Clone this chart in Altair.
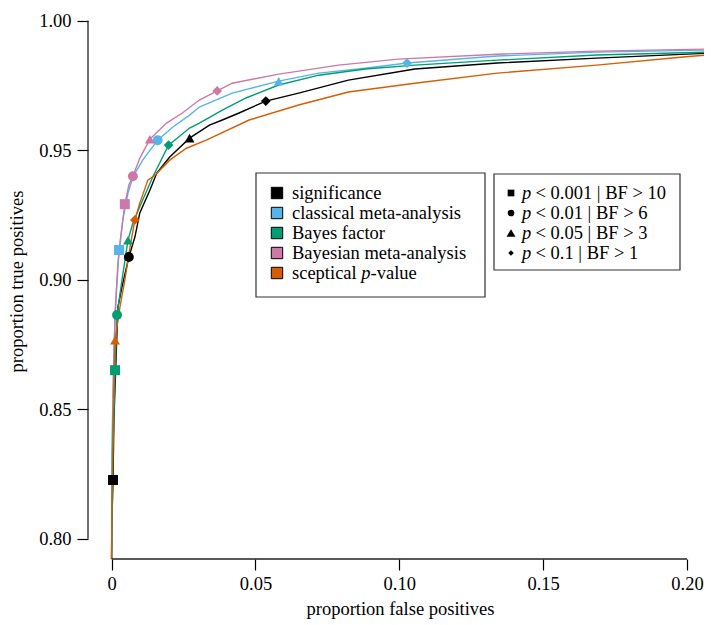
import altair as alt
import pandas as pd

FONT = "Liberation Serif"
FS = 18.5

series = ["significance", "classical meta-analysis", "Bayes factor",
          "Bayesian meta-analysis", "sceptical p-value"]
colors = ["#000000", "#56B4E9", "#009E73", "#CC79A7", "#D55E00"]

sig_fpr = [0, 0.0001, 0.0005, 0.0008, 0.0019, 0.0022, 0.0036, 0.0060, 0.0081, 0.0098,
           0.0133, 0.0157, 0.0202, 0.0271, 0.0340, 0.0385, 0.0443, 0.0536, 0.0650,
           0.0823, 0.1054, 0.1341, 0.1686, 0.2073, 0.2150]
sig_tpr = [0.7922, 0.8072, 0.8227, 0.8458, 0.8805, 0.8895, 0.8972, 0.9088, 0.9165, 0.9258,
           0.9346, 0.9412, 0.9474, 0.9547, 0.9597, 0.9617, 0.9644, 0.9690, 0.9721,
           0.9771, 0.9814, 0.9837, 0.9856, 0.9875, 0.9878]

cma_fpr = [0, 0.0001, 0.0008, 0.0015, 0.0026, 0.0039, 0.0057, 0.0074, 0.0108, 0.0160,
           0.0212, 0.0271, 0.0305, 0.0419, 0.0581, 0.0720, 0.0882, 0.1027, 0.1341,
           0.1686, 0.2073, 0.2150]
cma_tpr = [0.7922, 0.8342, 0.8728, 0.8921, 0.9115, 0.9231, 0.9335, 0.9397, 0.9462, 0.9539,
           0.9589, 0.9636, 0.9667, 0.9721, 0.9767, 0.9798, 0.9817, 0.9837, 0.9864,
           0.9879, 0.9887, 0.9889]

bf_fpr = [0, 0.0005, 0.0012, 0.0019, 0.0036, 0.0057, 0.0074, 0.0108, 0.0143, 0.0198,
          0.0271, 0.0305, 0.0385, 0.0467, 0.0581, 0.0720, 0.0882, 0.1054, 0.1341,
          0.1686, 0.2073, 0.2150]
bf_tpr = [0.7922, 0.8342, 0.8651, 0.8864, 0.8999, 0.9153, 0.9219, 0.9308, 0.9397, 0.9520,
          0.9586, 0.9605, 0.9655, 0.9702, 0.9752, 0.9790, 0.9814, 0.9829, 0.9848,
          0.9868, 0.9879, 0.9881]

bma_fpr = [0.0005, 0.0012, 0.0022, 0.0036, 0.0046, 0.0060, 0.0074, 0.0098, 0.0133, 0.0191,
           0.0246, 0.0305, 0.0367, 0.0419, 0.0581, 0.0789, 0.0996, 0.1341, 0.1686,
           0.2073, 0.2150]
bma_tpr = [0.8543, 0.8871, 0.9065, 0.9203, 0.9292, 0.9366, 0.9400, 0.9469, 0.9543, 0.9605,
           0.9644, 0.9694, 0.9729, 0.9759, 0.9794, 0.9829, 0.9852, 0.9871, 0.9883,
           0.9891, 0.9893]

scp_fpr = [0, 0.0001, 0.0005, 0.0012, 0.0029, 0.0046, 0.0064, 0.0081, 0.0098, 0.0126,
           0.0150, 0.0202, 0.0260, 0.0329, 0.0478, 0.0650, 0.0823, 0.1054, 0.1341,
           0.1686, 0.1986, 0.2073, 0.2150]
scp_tpr = [0.7922, 0.8149, 0.8458, 0.8767, 0.8895, 0.8999, 0.9126, 0.9231, 0.9296, 0.9385,
           0.9403, 0.9462, 0.9508, 0.9539, 0.9617, 0.9675, 0.9725, 0.9759, 0.9798,
           0.9829, 0.9860, 0.9868, 0.9871]

thresholds = ["p < 0.001 | BF > 10", "p < 0.01 | BF > 6", "p < 0.05 | BF > 3", "p < 0.1 | BF > 1"]
shapes = ["square", "circle", "triangle-up", "diamond"]
shape_sizes = [100, 95, 230, 70]

mk_series = (["significance"] * 4 + ["classical meta-analysis"] * 4 + ["Bayes factor"] * 4
             + ["Bayesian meta-analysis"] * 4 + ["sceptical p-value"] * 2)
mk_threshold = thresholds * 4 + thresholds[2:]
mk_fpr = [0.0005, 0.0060, 0.0271, 0.0536,
          0.0026, 0.0160, 0.0581, 0.1027,
          0.0012, 0.0019, 0.0057, 0.0198,
          0.0046, 0.0074, 0.0133, 0.0367,
          0.0012, 0.0081]
mk_tpr = [0.8227, 0.9088, 0.9547, 0.9690,
          0.9115, 0.9539, 0.9767, 0.9837,
          0.8651, 0.8864, 0.9153, 0.9520,
          0.9292, 0.9400, 0.9543, 0.9729,
          0.8767, 0.9231]

x_ticks = [0, 0.05, 0.10, 0.15, 0.20]
y_ticks = [0.80, 0.85, 0.90, 0.95, 1.00]

W, H = 616, 547
xscale = alt.Scale(domain=[-0.0082, 0.2059], nice=False, zero=False)
yscale = alt.Scale(domain=[0.7922, 1.0034], nice=False, zero=False)
xaxis = alt.Axis(values=x_ticks, domain=False, grid=False, tickSize=11, tickColor="black",
                 tickWidth=1.2, labelPadding=4,
                 labelExpr="datum.value == 0 ? '0' : format(datum.value, '.2f')",
                 title="proportion false positives", titleBaseline="middle",
                 titleY=49, titleX=312)
yaxis = alt.Axis(values=y_ticks, domain=False, grid=False, tickSize=11, tickColor="black",
                 tickWidth=1.2, labelPadding=6, format=".2f",
                 title="proportion true positives", titleBaseline="middle",
                 titleX=-72, titleY=269)
color = alt.Color("series:N", scale=alt.Scale(domain=series, range=colors), legend=None)


def X(f="fpr"):
    return alt.X(f"{f}:Q", scale=xscale, axis=xaxis)


def Y(f="tpr"):
    return alt.Y(f"{f}:Q", scale=yscale, axis=yaxis)


curves = [(sig_fpr, sig_tpr), (cma_fpr, cma_tpr), (bf_fpr, bf_tpr),
          (bma_fpr, bma_tpr), (scp_fpr, scp_tpr)]
layers = []
for name, (fx, fy) in zip(series, curves):
    df = pd.DataFrame({"fpr": fx, "tpr": fy, "series": name})
    layers.append(alt.Chart(df).mark_line(strokeWidth=1.4, clip=True).encode(
        x=X(), y=Y(), color=color))

mk_df = pd.DataFrame({"fpr": mk_fpr, "tpr": mk_tpr, "series": mk_series,
                      "threshold": mk_threshold})
layers.append(alt.Chart(mk_df).mark_point(filled=True, opacity=1, strokeWidth=0).encode(
    x=X(), y=Y(), color=color,
    shape=alt.Shape("threshold:N", scale=alt.Scale(domain=thresholds, range=shapes), legend=None),
    size=alt.Size("threshold:N", scale=alt.Scale(domain=thresholds, range=shape_sizes), legend=None)))

# axis lines spanning the tick range only
layers.append(alt.Chart(pd.DataFrame({"fpr": [x_ticks[0]], "fpr2": [x_ticks[-1]]})).mark_rule(
    color="#222", strokeWidth=1.3).encode(x=X(), x2="fpr2:Q", y=alt.value(H)))
layers.append(alt.Chart(pd.DataFrame({"tpr": [y_ticks[0]], "tpr2": [y_ticks[-1]]})).mark_rule(
    color="#222", strokeWidth=1.3).encode(y=Y(), y2="tpr2:Q", x=alt.value(0)))

one = pd.DataFrame({"a": [0]})

# legend boxes
for (x1, x2, y1, y2) in [(168, 397, 161, 285), (406, 592, 162, 258)]:
    layers.append(alt.Chart(one).mark_rect(fill="white", stroke="#333", strokeWidth=1.2).encode(
        x=alt.value(x1), x2=alt.value(x2), y=alt.value(y1), y2=alt.value(y2)))

txt = dict(font=FONT, fontSize=FS, align="left", baseline="middle", color="black")
rows1 = [181, 201, 221, 241, 261]
for i, (name, col) in enumerate(zip(series, colors)):
    layers.append(alt.Chart(one).mark_point(shape="square", filled=True, fill=col, stroke="black",
                                            strokeWidth=1, size=130, opacity=1).encode(
        x=alt.value(189), y=alt.value(rows1[i])))
    if name == "sceptical p-value":
        for t, xx, st in [("sceptical", 204, "normal"), ("p", 273.3, "italic"), ("-value", 282.6, "normal")]:
            layers.append(alt.Chart(one).mark_text(fontStyle=st, **txt).encode(
                x=alt.value(xx), y=alt.value(rows1[i]), text=alt.value(t)))
    else:
        layers.append(alt.Chart(one).mark_text(**txt).encode(
            x=alt.value(204), y=alt.value(rows1[i]), text=alt.value(name)))

rows2 = [181, 201, 221, 241]
leg_sizes = [45, 45, 80, 30]
for i, (th, shp) in enumerate(zip(thresholds, shapes)):
    layers.append(alt.Chart(one).mark_point(shape=shp, filled=True, fill="black", strokeWidth=0,
                                            size=leg_sizes[i], opacity=1).encode(
        x=alt.value(423), y=alt.value(rows2[i])))
    layers.append(alt.Chart(one).mark_text(fontStyle="italic", **txt).encode(
        x=alt.value(434), y=alt.value(rows2[i]), text=alt.value("p")))
    layers.append(alt.Chart(one).mark_text(**txt).encode(
        x=alt.value(447.5), y=alt.value(rows2[i]), text=alt.value(th[2:])))

chart = alt.layer(*layers).properties(
    width=W, height=H,
    padding={"left": 80, "top": 4, "right": 0, "bottom": 60},
    autosize=alt.AutoSizeParams(type="none"),
).configure_view(stroke=None).configure_axis(
    labelFont=FONT, titleFont=FONT, labelFontSize=FS, titleFontSize=FS,
    titleFontWeight="normal", labelColor="black", titleColor="black",
)

chart.save("out.html", embed_options={"renderer": "svg", "actions": False})
